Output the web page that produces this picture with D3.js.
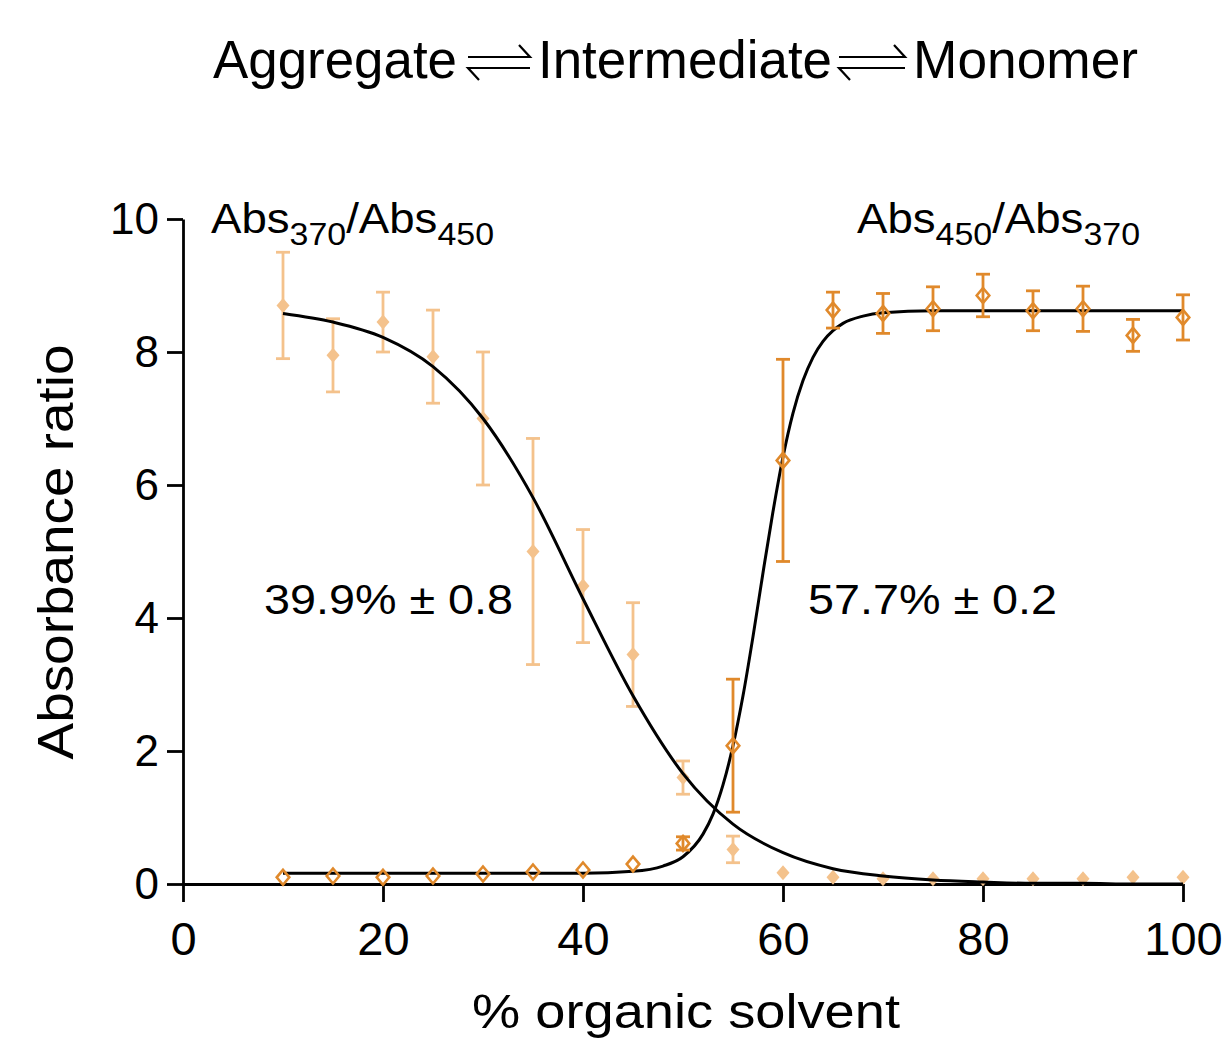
<!DOCTYPE html>
<html>
<head>
<meta charset="utf-8">
<script src="https://cdn.jsdelivr.net/npm/d3@7"></script>
<style>
  body { margin: 0; background: #fff; }
  svg { display: block; font-family: "Liberation Sans", Arial, sans-serif; }
</style>
</head>
<body>
<svg id="chart" width="1222" height="1038"></svg>
<script>
// % organic solvent for every measurement
var solvent = [10, 15, 20, 25, 30, 35, 40, 45, 50, 55, 60, 65, 70, 75, 80, 85, 90, 95, 100];

// Abs370/Abs450 (light, filled diamonds) and its error
var ratio370 = [8.7, 7.95, 8.45, 7.93, 7.0, 5.0, 4.48, 3.45, 1.6, 0.52, 0.17, 0.1, 0.08, 0.08, 0.08, 0.08, 0.08, 0.1, 0.1];
var err370   = [0.8, 0.55, 0.45, 0.7, 1.0, 1.7, 0.85, 0.78, 0.25, 0.2, 0, 0, 0, 0, 0, 0, 0, 0, 0];

// Abs450/Abs370 (dark, open diamonds) and its error
var ratio450 = [0.1, 0.12, 0.1, 0.12, 0.15, 0.18, 0.21, 0.3, 0.61, 2.08, 6.37, 8.63, 8.58, 8.65, 8.85, 8.62, 8.65, 8.25, 8.52];
var err450   = [0, 0, 0, 0, 0, 0, 0, 0, 0.1, 1.0, 1.52, 0.27, 0.3, 0.33, 0.32, 0.3, 0.34, 0.24, 0.34];

// fitted lines
var fit1X = [10, 15, 20, 25, 30, 35, 40, 45, 50, 55, 60, 65, 70, 75, 80, 85, 90, 95, 100];
var fit1Y = [8.58, 8.45, 8.22, 7.78, 7.0, 5.81, 4.29, 2.83, 1.66, 0.9, 0.47, 0.23, 0.12, 0.06, 0.03, 0.01, 0.01, 0, 0];
var fit2X = [10, 20, 30, 40, 45, 48, 50, 52, 53, 54, 55, 56, 57, 58, 59, 60, 61, 62, 63, 64, 65, 66, 68, 70, 75, 80, 90, 100];
var fit2Y = [0.16, 0.16, 0.16, 0.16, 0.19, 0.27, 0.41, 0.75, 1.05, 1.49, 2.08, 2.83, 3.72, 4.68, 5.6, 6.42, 7.08, 7.57, 7.92, 8.16, 8.32, 8.43, 8.54, 8.59, 8.62, 8.62, 8.62, 8.62];

var xTicks = [0, 20, 40, 60, 80, 100];
var yTicks = [0, 2, 4, 6, 8, 10];

var lightColor = "#F4C28C";
var darkColor = "#E0892B";

var svg = d3.select("#chart");

var x = d3.scaleLinear().domain([0, 100]).range([183, 1183]);
var y = d3.scaleLinear().domain([0, 10]).range([884, 219]);

// axes
var xAxis = svg.append("g")
  .attr("transform", "translate(0," + y(0) + ")")
  .call(d3.axisBottom(x).tickValues(xTicks).tickSize(18).tickSizeOuter(0).tickPadding(20));
var yAxis = svg.append("g")
  .attr("transform", "translate(" + x(0) + ",0)")
  .call(d3.axisLeft(y).tickValues(yTicks).tickSize(16).tickSizeOuter(0).tickPadding(8));

xAxis.selectAll("path, line").attr("stroke", "#000").attr("stroke-width", 2.8);
yAxis.selectAll("path, line").attr("stroke", "#000").attr("stroke-width", 2.8);
xAxis.selectAll("text").attr("font-size", 47).attr("fill", "#000")
  .attr("font-family", "Liberation Sans, Arial, sans-serif");
yAxis.selectAll("text").attr("font-size", 44).attr("fill", "#000")
  .attr("font-family", "Liberation Sans, Arial, sans-serif");

// diamond path
function diamond(hw, hh) {
  return "M0," + (-hh) + "L" + hw + ",0L0," + hh + "L" + (-hw) + ",0Z";
}

function drawSeries(vals, errs, color, cls) {
  var rows = solvent.map(function(s, i) { return { s: s, v: vals[i], e: errs[i] }; });
  var g = svg.append("g").attr("class", cls);
  var eb = g.selectAll(".eb").data(rows.filter(function(d) { return d.e > 0; }))
    .enter().append("g").attr("class", "eb")
    .attr("stroke", color).attr("stroke-width", 2.8).attr("fill", "none");
  eb.append("line")
    .attr("x1", function(d) { return x(d.s); }).attr("x2", function(d) { return x(d.s); })
    .attr("y1", function(d) { return y(d.v - d.e); }).attr("y2", function(d) { return y(d.v + d.e); });
  eb.append("line")
    .attr("x1", function(d) { return x(d.s) - 7; }).attr("x2", function(d) { return x(d.s) + 7; })
    .attr("y1", function(d) { return y(d.v + d.e); }).attr("y2", function(d) { return y(d.v + d.e); });
  eb.append("line")
    .attr("x1", function(d) { return x(d.s) - 7; }).attr("x2", function(d) { return x(d.s) + 7; })
    .attr("y1", function(d) { return y(d.v - d.e); }).attr("y2", function(d) { return y(d.v - d.e); });
  return { g: g, rows: rows };
}

// light series
var light = drawSeries(ratio370, err370, lightColor, "light");
light.g.selectAll(".pt").data(light.rows).enter().append("path")
  .attr("d", diamond(6.5, 7.5))
  .attr("transform", function(d) { return "translate(" + x(d.s) + "," + y(d.v) + ")"; })
  .attr("fill", lightColor);

// fitted curves
var line = d3.line()
  .x(function(d) { return x(d[0]); })
  .y(function(d) { return y(d[1]); })
  .curve(d3.curveMonotoneX);
svg.append("path")
  .datum(d3.zip(fit1X, fit1Y))
  .attr("d", line).attr("fill", "none").attr("stroke", "#000").attr("stroke-width", 3);
svg.append("path")
  .datum(d3.zip(fit2X, fit2Y))
  .attr("d", line).attr("fill", "none").attr("stroke", "#000").attr("stroke-width", 3);

// dark series
var dark = drawSeries(ratio450, err450, darkColor, "dark");
dark.g.selectAll(".pt").data(dark.rows).enter().append("path")
  .attr("d", diamond(6.3, 7.5))
  .attr("transform", function(d) { return "translate(" + x(d.s) + "," + y(d.v) + ")"; })
  .attr("fill", "none").attr("stroke", darkColor).attr("stroke-width", 2.6);

// axis titles
svg.append("text")
  .attr("transform", "translate(73,552) rotate(-90)")
  .attr("text-anchor", "middle")
  .attr("font-size", 50)
  .attr("textLength", 415).attr("lengthAdjust", "spacingAndGlyphs")
  .text("Absorbance ratio");
svg.append("text")
  .attr("x", 686).attr("y", 1028)
  .attr("text-anchor", "middle")
  .attr("font-size", 49)
  .attr("textLength", 428).attr("lengthAdjust", "spacingAndGlyphs")
  .text("% organic solvent");

// ratio labels with subscripts
function ratioLabel(x0, a, b) {
  var t = svg.append("text").attr("x", x0).attr("y", 233).attr("font-size", 43)
    .attr("textLength", 283).attr("lengthAdjust", "spacingAndGlyphs");
  t.append("tspan").text("Abs");
  t.append("tspan").attr("font-size", 32).attr("dy", 12).text(a);
  t.append("tspan").attr("dy", -12).text("/Abs");
  t.append("tspan").attr("font-size", 32).attr("dy", 12).text(b);
}
ratioLabel(211, "370", "450");
ratioLabel(857, "450", "370");

// midpoint labels
svg.append("text").attr("x", 264).attr("y", 614).attr("font-size", 42)
  .attr("textLength", 249).attr("lengthAdjust", "spacingAndGlyphs")
  .text("39.9% \u00B1 0.8");
svg.append("text").attr("x", 808).attr("y", 614).attr("font-size", 42)
  .attr("textLength", 249).attr("lengthAdjust", "spacingAndGlyphs")
  .text("57.7% \u00B1 0.2");

// title with equilibrium arrows
var titleWords = ["Aggregate", "Intermediate", "Monomer"];
var titleX = [213, 538, 913];
var titleW = [244, 294, 225];
titleWords.forEach(function(w, i) {
  svg.append("text").attr("x", titleX[i]).attr("y", 78).attr("font-size", 54)
    .attr("textLength", titleW[i]).attr("lengthAdjust", "spacingAndGlyphs")
    .text(w);
});
var arrowSpans = [[468, 530], [839, 905]];
arrowSpans.forEach(function(a) {
  var x0 = a[0], x1 = a[1];
  svg.append("path")
    .attr("d", "M" + x0 + ",57H" + x1 + "L" + (x1 - 11) + ",45" +
               "M" + x1 + ",68H" + x0 + "L" + (x0 + 11) + ",80")
    .attr("fill", "none").attr("stroke", "#000").attr("stroke-width", 2.2);
});
</script>
</body>
</html>
